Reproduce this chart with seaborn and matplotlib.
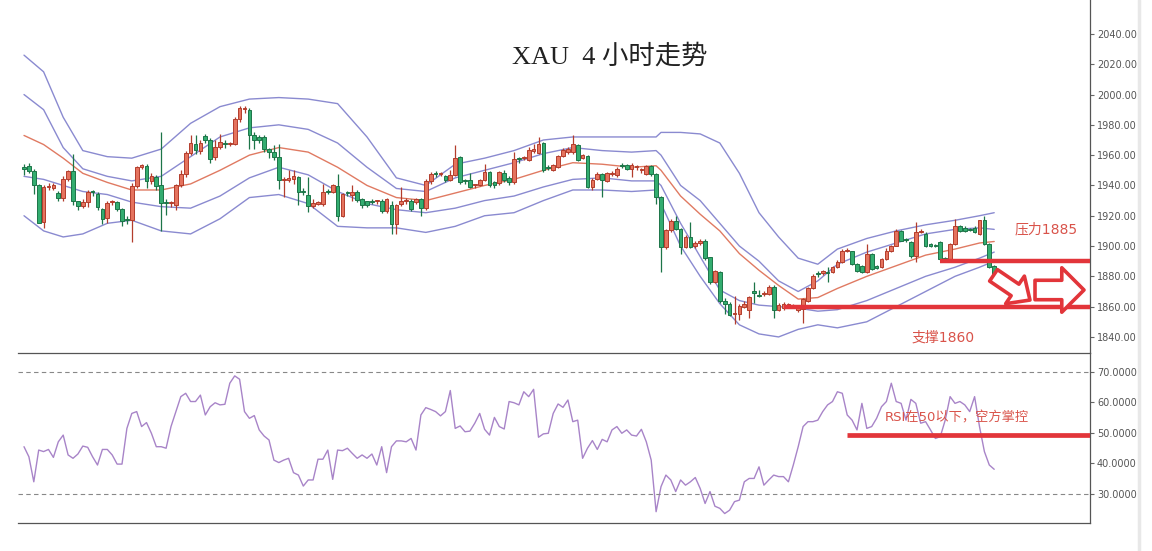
import numpy as np
import pandas as pd
import matplotlib
matplotlib.use("Agg")
import matplotlib.pyplot as plt
import seaborn as sns

# ---- candle data (4h XAU) ----
opens = [1952, 1953, 1949.3, 1940.4, 1916, 1939, 1938, 1935, 1931.6, 1944,
         1949.3, 1929.4, 1926.5, 1929, 1935.6, 1934.5, 1924.5, 1918.4, 1929, 1929,
         1924.5, 1917.5, 1917.5, 1939.5, 1952, 1953, 1942.7, 1945.5, 1940, 1929,
         1928.5, 1927, 1940, 1947.7, 1961.6, 1967.5, 1963, 1972.5, 1969.8, 1958.7,
         1965.4, 1967.6, 1967.6, 1967.6, 1983.7, 1990.7, 1989.7, 1973, 1972, 1972,
         1964.3, 1962, 1958.7, 1943.3, 1943.3, 1944, 1945.5, 1935.6, 1934, 1926.1,
         1928, 1928, 1936, 1935.6, 1939.4, 1920.1, 1935, 1934, 1935.6, 1931,
         1929.5, 1929.4, 1929.4, 1930, 1923.4, 1926.8, 1914.6, 1928, 1930, 1930,
         1929, 1931, 1925.2, 1942.9, 1948, 1947.8, 1946, 1943.7, 1947, 1958.7,
         1942.8, 1943.3, 1940, 1940.4, 1943.7, 1948.8, 1942, 1941.5, 1948.2, 1945,
         1942.2, 1957.6, 1958, 1957, 1962.5, 1961.4, 1968, 1952, 1950.4, 1952.2,
         1959.2, 1962, 1962, 1966.5, 1958.3, 1959.2, 1939, 1944.4, 1947.7, 1942.9,
         1947.7, 1946.6, 1953.3, 1953.3, 1951, 1952, 1950, 1947.7, 1952.6, 1947.7,
         1932.3, 1899.2, 1910.7, 1916.4, 1911.3, 1899.2, 1906.2, 1900, 1901.8, 1903.6,
         1892.6, 1876, 1882.6, 1863.9, 1862, 1855, 1855, 1860, 1857.7, 1869.5,
         1867.5, 1868.4, 1868.3, 1872.7, 1858, 1859, 1860.5, 1860, 1857.5, 1858.4,
         1863.9, 1872.3, 1881.5, 1882.5, 1882.5, 1882.6, 1886, 1889.7, 1897, 1896.5,
         1888, 1887, 1882.6, 1894.8, 1887, 1886.4, 1891.5, 1896.5, 1900.3, 1910.2,
         1904, 1902.5, 1893.7, 1909.5, 1908, 1901.5, 1900.5, 1902.5, 1891.5, 1891.5,
         1901.4, 1913.5, 1912, 1910.8, 1912, 1908, 1916.9, 1901.4, 1887]
closes = [1951, 1949.5, 1940, 1915.3, 1939, 1939.5, 1940, 1931.6, 1944.4, 1949.3,
          1929.4, 1926.7, 1929, 1935.6, 1935.4, 1925.7, 1917.9, 1928.5, 1929.2, 1924.5,
          1916.8, 1917.3, 1939.5, 1952, 1953.3, 1942.7, 1946, 1939.5, 1928.5, 1928.6,
          1929, 1940, 1947.7, 1961.6, 1968.2, 1963.2, 1968, 1969.8, 1957.6, 1965.4,
          1968.7, 1967.4, 1968, 1983.7, 1991.4, 1990.9, 1973.1, 1969.8, 1969.8, 1964.3,
          1962, 1958.7, 1943.3, 1943.5, 1945, 1946, 1935.6, 1935.4, 1926.1, 1928.3,
          1929, 1935.6, 1935.8, 1940, 1920.1, 1934.5, 1934.8, 1935.6, 1930.1, 1927.4,
          1927.4, 1929.2, 1929.6, 1923.4, 1931.2, 1914.6, 1926.8, 1930, 1930.2, 1924.5,
          1931, 1925, 1942.9, 1947.7, 1947.8, 1948, 1943.3, 1947, 1958.3, 1942.2,
          1942.6, 1938.9, 1940.2, 1943.7, 1948.8, 1940, 1940, 1948.8, 1943.3, 1942.2,
          1957.7, 1957.4, 1958.2, 1963.6, 1964.3, 1967.6, 1950, 1951.8, 1953.2, 1959.2,
          1963.6, 1964.3, 1967.1, 1957, 1959.8, 1939, 1943.7, 1947.7, 1943.3, 1948.2,
          1947.9, 1951, 1953.1, 1951, 1953.3, 1952.2, 1950.2, 1952.6, 1947.7, 1932.3,
          1899.2, 1910.7, 1916.8, 1911.3, 1899.2, 1906.2, 1899.2, 1901.8, 1903.6, 1892.1,
          1876, 1883.3, 1863.9, 1861.7, 1854.6, 1855.2, 1860.5, 1861.5, 1866.1, 1869.3,
          1867.3, 1868.6, 1872.7, 1857.7, 1861.2, 1862, 1861.5, 1860.8, 1859.5, 1865,
          1872.3, 1880.4, 1881.3, 1882.7, 1882.3, 1886.4, 1889.7, 1897, 1897.2, 1888,
          1883.7, 1882.6, 1894.8, 1884.8, 1885.5, 1891.5, 1897, 1900.3, 1910.2, 1903.6,
          1903.8, 1893.7, 1909.1, 1909.8, 1900.3, 1900, 1900.3, 1891.5, 1891.3, 1901.4,
          1913.5, 1910.2, 1910.2, 1910.6, 1909, 1916.9, 1901.4, 1886, 1879.3]
highs = [1954, 1954.5, 1950.6, 1941, 1940, 1941.8, 1941.5, 1936, 1946, 1950,
         1961, 1930, 1931, 1936.7, 1937, 1935.6, 1925, 1930, 1930.5, 1930,
         1925, 1919.7, 1941.7, 1953, 1954.4, 1954, 1948, 1947, 1975, 1931,
         1930, 1941, 1949.9, 1962.7, 1973, 1973, 1970, 1974, 1971, 1970,
         1974, 1970, 1969, 1985.2, 1992.5, 1992.5, 1991, 1975, 1973, 1973,
         1965, 1967, 1967.6, 1945.5, 1950, 1950, 1946, 1938, 1945.5, 1931,
         1930, 1941, 1937.5, 1941, 1947.7, 1935, 1936, 1940.6, 1937, 1932,
         1930, 1931, 1930.5, 1931, 1932, 1930, 1928, 1938.9, 1931.5, 1931,
         1932, 1932, 1944.4, 1948.8, 1949.6, 1949, 1947, 1950, 1966.5, 1959.5,
         1944, 1948, 1941, 1944.5, 1954.4, 1949.5, 1943, 1949.5, 1950, 1946,
         1962, 1959, 1959.5, 1965.5, 1967.6, 1972, 1968.5, 1953.5, 1954, 1960,
         1964.5, 1965.5, 1973, 1967.5, 1961, 1960, 1945, 1949, 1948.5, 1949,
         1949.5, 1952, 1955, 1954, 1954.5, 1953.5, 1951.5, 1953.5, 1953.5, 1948,
         1933, 1911.5, 1918, 1920, 1912, 1907, 1915.7, 1903, 1904.5, 1904.5,
         1893, 1884, 1883.5, 1866, 1863, 1867, 1861.5, 1864, 1867, 1876,
         1871, 1870, 1874, 1874, 1862.5, 1863, 1862.5, 1862, 1861, 1866,
         1873, 1881.5, 1883.5, 1884, 1886, 1887, 1890.5, 1898, 1898.5, 1897,
         1888.5, 1887.5, 1901.4, 1895.5, 1887.5, 1892, 1898.5, 1901, 1911, 1910.8,
         1905, 1903, 1915.7, 1911, 1909, 1902, 1901.5, 1903, 1892.5, 1902,
         1918, 1914, 1913, 1912, 1913, 1917.5, 1920, 1902, 1887.5]
lows = [1947, 1948, 1934.5, 1915, 1912, 1936.7, 1937, 1930, 1930, 1943,
        1927, 1924, 1925, 1925.7, 1933, 1923.5, 1914.6, 1915, 1927, 1923,
        1913.5, 1914.6, 1902.5, 1938, 1951, 1938, 1941, 1937, 1910, 1920.6,
        1926, 1923.5, 1939, 1945.5, 1960, 1961, 1961, 1968, 1955, 1957,
        1964, 1965, 1966, 1966.5, 1982, 1988, 1964.3, 1964, 1968, 1962,
        1958, 1956.5, 1937.8, 1932.3, 1942, 1941, 1927, 1934, 1922.3, 1925,
        1927, 1926.7, 1934.5, 1935, 1916.8, 1919, 1933, 1930, 1929, 1925,
        1926, 1928, 1928, 1922, 1922, 1908, 1908, 1926.7, 1928, 1923,
        1928, 1920, 1924, 1941, 1945.5, 1946, 1942, 1943, 1946, 1941,
        1941, 1938, 1938.5, 1939.5, 1943, 1939, 1938.5, 1940, 1942.5, 1940,
        1941, 1955, 1956.5, 1956, 1961.5, 1960.5, 1949, 1950, 1949.5, 1951.5,
        1958.5, 1961, 1961, 1956, 1957.5, 1938, 1936.7, 1943.5, 1932.3, 1942,
        1946, 1945.5, 1951.5, 1950, 1945.5, 1950.5, 1948.5, 1947, 1946.5, 1928,
        1882.6, 1898, 1909.5, 1910.5, 1894.8, 1898.5, 1898.5, 1899, 1900.5, 1891,
        1875, 1875.5, 1862.5, 1855, 1853.5, 1848.4, 1851, 1859, 1852.8, 1862.7,
        1866.5, 1867, 1867.5, 1852.8, 1857, 1858, 1859.5, 1859, 1856.5, 1849,
        1863, 1871.5, 1879.5, 1881, 1876, 1882, 1885.5, 1889, 1896, 1887.5,
        1883, 1882, 1882, 1884, 1885, 1885.5, 1891, 1896, 1900, 1903,
        1902.5, 1892, 1889.3, 1908.5, 1899.5, 1899.5, 1899.5, 1891, 1890, 1890.5,
        1901, 1909.5, 1909.5, 1909.8, 1908.5, 1907.5, 1900.5, 1885.5, 1878.5]

# Bollinger style bands, read at a few candles
band_idx = [0, 4, 8, 12, 17, 22, 28, 34, 40, 46, 52, 58, 64, 70, 76, 82, 88, 94, 100, 106,
            112, 118, 124, 129, 130, 134, 138, 142, 146, 150, 154, 158, 162, 166, 172, 178,
            184, 190, 195, 198]
band_outer_up = [2026, 2015, 1985, 1963, 1959, 1958, 1964, 1981, 1992, 1997, 1998, 1997,
                 1994, 1972, 1945, 1940, 1954, 1958, 1963, 1970, 1972, 1972, 1972, 1972,
                 1975, 1975, 1974, 1968, 1948, 1922, 1906, 1892, 1888, 1898, 1905, 1910,
                 1914, 1917, 1920, 1922]
band_inner_up = [2000, 1990, 1965, 1951, 1946, 1943, 1946, 1959, 1972, 1978, 1980, 1977,
                 1968, 1952, 1938, 1936, 1945, 1950, 1955, 1961, 1965, 1963, 1962, 1963,
                 1960, 1940, 1930, 1915, 1900, 1890, 1877, 1870, 1877, 1888, 1896, 1902,
                 1908, 1911, 1912, 1911]
band_mid = [1973, 1967, 1958, 1948, 1942, 1937, 1937, 1941, 1950, 1960, 1965, 1962,
            1952, 1940, 1932, 1930, 1935, 1940, 1944, 1950, 1955, 1954, 1952, 1953,
            1950, 1933, 1921, 1910, 1895, 1884, 1874, 1865, 1866, 1872, 1880, 1887,
            1894, 1898, 1902, 1903]
band_inner_low = [1946, 1944, 1940, 1936, 1934, 1929, 1926, 1925, 1933, 1945, 1952, 1947,
                  1936, 1928, 1924, 1922, 1925, 1930, 1933, 1939, 1944, 1945, 1943, 1943,
                  1940, 1915, 1893, 1871, 1864, 1861, 1860, 1859, 1857, 1858, 1864, 1872,
                  1880, 1886, 1892, 1896]
band_outer_low = [1920, 1910, 1906, 1908, 1915, 1917, 1910, 1908, 1918, 1932, 1934, 1928,
                  1913, 1912, 1912, 1909, 1913, 1920, 1922, 1930, 1937, 1937, 1936, 1937,
                  1928, 1900, 1880, 1862, 1848, 1842, 1840, 1845, 1848, 1846, 1850, 1860,
                  1870, 1880, 1886, 1890]

# RSI, one value per candle
rsi = [45.5, 42.2, 34.0, 44.4, 43.9, 44.6, 42.0, 47.1, 49.3,
       42.8, 41.7, 43.1, 45.7, 45.3, 42.2, 39.5, 44.6, 44.6, 42.8,
       39.8, 39.8, 51.5, 56.4, 57.0, 52.1, 53.4, 49.9, 45.5, 45.5,
       45.0, 52.1, 57.0, 61.9, 63.0, 60.3, 60.3, 62.4, 55.9, 58.6,
       59.9, 59.2, 59.4, 66.3, 68.7, 67.6, 57.0, 54.8, 55.7, 51.0,
       49.0, 47.7, 41.1, 40.3, 41.1, 41.7, 37.0, 36.2, 32.6, 34.6,
       34.6, 41.4, 41.4, 44.4, 34.8, 44.4, 44.2, 45.0, 43.3, 41.7,
       42.8, 41.7, 43.1, 39.5, 45.5, 37.0, 45.5, 47.4, 47.4, 47.1,
       48.2, 44.4, 55.9, 58.3, 57.7, 57.0, 55.6, 57.0, 63.9, 51.5,
       52.3, 50.4, 50.6, 53.2, 56.4, 51.2, 49.3, 55.1, 52.1, 51.3,
       60.3, 59.9, 59.2, 63.5, 61.9, 64.3, 48.6, 49.7, 49.9, 56.4,
       59.5, 58.4, 60.8, 53.7,
       54.2, 41.7, 45.0, 47.5, 44.6, 47.9, 47.1, 51.0, 52.1, 49.9,
       51.0, 49.3, 49.0, 51.2, 47.1, 41.1, 24.2, 32.4, 36.2, 34.6,
       30.8, 34.6, 32.9, 34.0, 35.4, 31.8, 26.9, 30.8, 26.0, 25.3,
       23.6, 24.7, 27.5, 28.0, 34.0, 35.1, 35.1, 38.9, 32.9, 34.6,
       36.2, 35.7, 35.7, 34.0, 39.5, 45.5, 52.1, 53.7, 53.7, 54.2,
       57.0, 59.2, 60.3, 63.5, 63.0, 55.9, 54.2, 51.0, 59.7, 51.5,
       52.1, 54.8, 58.6, 60.3, 66.3, 60.3, 59.7, 54.2, 61.0, 59.7,
       53.2, 53.7, 51.0, 48.2, 48.8, 54.2, 61.9, 59.7, 60.3, 59.2,
       57.0, 61.9, 52.1, 43.9, 39.5, 38.1]

price_ticks = [1840, 1860, 1880, 1900, 1920, 1940, 1960, 1980, 2000, 2020, 2040]
rsi_ticks = [30, 40, 50, 60, 70]
resistance = 1890      # 压力线
resistance_from = 187
support = 1859.5       # 支撑线
support_from = 155
rsi_mark = 49.3
rsi_mark_from = 168

df = pd.DataFrame({"open": opens, "high": highs, "low": lows, "close": closes})
df["i"] = np.arange(len(df))
df["up"] = df["close"] >= df["open"]

sns.set_theme(style="white")
plt.rcParams["font.family"] = ["DejaVu Sans", "Noto Sans CJK SC"]

W, H = 1152, 551
fig = plt.figure(figsize=(W / 100, H / 100), dpi=100)
L, R = 18, 1090
ax = fig.add_axes([L / W, (H - 353) / H, (R - L) / W, 353 / H])
ax2 = fig.add_axes([L / W, (H - 523) / H, (R - L) / W, 170 / H])
ax2.patch.set_alpha(0)

xmin, xmax = (L - 24) / 4.9, (R - 24) / 4.9

red_fill, red_edge = "#e5735e", "#b33d2c"
grn_fill, grn_edge = "#33ad70", "#1d7548"

# wicks + bodies
for up, fc, ec in [(True, red_fill, red_edge), (False, grn_fill, grn_edge)]:
    d = df[df["up"] == up]
    ax.vlines(d["i"], d["low"], d["high"], color=ec, lw=0.9, zorder=3)
    body = (d["close"] - d["open"]).abs().clip(lower=0.7)
    ax.bar(d["i"], body, bottom=d[["open", "close"]].min(axis=1), width=0.76,
           color=fc, edgecolor=ec, linewidth=0.7, zorder=4)

band_col = "#8a8ad0"
for yv in [band_outer_up, band_inner_up, band_inner_low, band_outer_low]:
    sns.lineplot(x=band_idx, y=yv, ax=ax, color=band_col, lw=1.0, zorder=2)
sns.lineplot(x=band_idx, y=band_mid, ax=ax, color="#e07a62", lw=1.0, zorder=2)

mark_red = "#e2353a"
ax.hlines(resistance, resistance_from, xmax, color=mark_red, lw=3.2, zorder=6)
ax.hlines(support, support_from, xmax, color=mark_red, lw=3.2, zorder=6)

ax.set_xlim(xmin, xmax)
ax.set_ylim(1829.4, 2062.4)
ax.yaxis.tick_right()
ax.set_yticks(price_ticks)
ax.set_yticklabels([f"{t:.2f}" for t in price_ticks])
ax.set_xticks([])
for s in ["top", "left", "bottom"]:
    ax.spines[s].set_visible(False)
ax.spines["right"].set_color("#555555")
ax.spines["right"].set_linewidth(0.9)

# RSI panel
sns.lineplot(x=df["i"], y=rsi, ax=ax2, color="#a884c8", lw=1.0)
for lv in [70, 30]:
    ax2.axhline(lv, color="#888888", lw=0.8, ls=(0, (4, 3)))
ax2.hlines(rsi_mark, rsi_mark_from, xmax, color=mark_red, lw=3.4, zorder=6)
ax2.set_xlim(xmin, xmax)
ax2.set_ylim(20.5, 76.2)
ax2.yaxis.tick_right()
ax2.set_yticks(rsi_ticks)
ax2.set_yticklabels([f"{t:.4f}" for t in rsi_ticks])
ax2.set_xticks([])
ax2.spines["left"].set_visible(False)
for s in ["right", "bottom", "top"]:
    ax2.spines[s].set_color("#555555")
    ax2.spines[s].set_linewidth(0.9)

for a in (ax, ax2):
    a.set_xlabel("")
    a.set_ylabel("")
    a.tick_params(axis="y", which="both", right=True, direction="out", length=3,
                  width=0.8, color="#666666", labelsize=7, labelcolor="#555555", pad=2)

# title and notes
ax.text(0.552, 0.842, "XAU  4 小时走势", transform=ax.transAxes, ha="center", va="center",
        fontsize=19, color="#222222", family=["Liberation Serif", "Noto Sans CJK SC"])
note_col = "#d9534a"
ax.text(0.959, 0.351, "压力1885", transform=ax.transAxes, ha="center", va="center",
        fontsize=10, color=note_col)
ax.text(0.863, 0.045, "支撑1860", transform=ax.transAxes, ha="center", va="center",
        fontsize=10, color=note_col)
ax2.text(0.876, 0.62, "RSI在50以下，空方掌控", transform=ax2.transAxes, ha="center",
         va="center", fontsize=9.5, color=note_col)

# hollow arrows
ax.annotate("", xy=(0.9440, 0.1500), xytext=(0.9100, 0.2200), xycoords="axes fraction",
            arrowprops=dict(arrowstyle="simple,head_length=13,head_width=24,tail_width=10",
                            mutation_scale=1, fc="white", ec=mark_red, lw=2.6,
                            shrinkA=0, shrinkB=0), zorder=7)
ax.annotate("", xy=(0.9944, 0.1785), xytext=(0.9487, 0.1785), xycoords="axes fraction",
            arrowprops=dict(arrowstyle="simple,head_length=16,head_width=32,tail_width=14",
                            mutation_scale=1, fc="white", ec=mark_red, lw=2.6,
                            shrinkA=0, shrinkB=0), zorder=7)

fig.add_artist(plt.Line2D([1139 / W, 1139 / W], [0, 1], color="#e8e8e8", lw=2.5))

fig.savefig("out.png", dpi=100, facecolor="white")
